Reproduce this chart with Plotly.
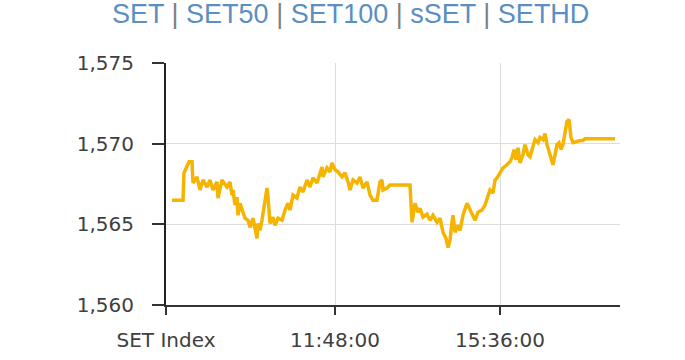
import plotly.graph_objects as go

# Index menu shown as the title
index_names = ["SET", "SET50", "SET100", "sSET", "SETHD"]

# x-axis ticks (trading-time sample position) and labels
tick_pos = [0, 169, 334]
tick_text = ["SET Index", "11:48:00", "15:36:00"]

# y-axis ticks
y_ticks = [1560, 1565, 1570, 1575]

# SET index intraday series (sample position, index value)
t = [6, 17, 18, 20, 23, 26, 27, 31, 34, 37, 41, 44, 47, 51, 52, 56, 61, 64, 66, 67,
     69, 71, 72, 74, 76, 79, 82, 84, 87, 89, 91, 92, 94, 96, 99, 101, 102, 104, 107, 109,
     112, 116, 119, 122, 124, 127, 131, 134, 137, 141, 144, 147, 151, 154, 156, 157, 161, 164, 166, 169,
     172, 176, 179, 182, 184, 187, 191, 194, 197, 201, 204, 207, 211, 214, 216, 217, 221, 224, 242, 244,
     246, 248, 249, 252, 254, 257, 261, 264, 267, 271, 274, 277, 280, 282, 284, 286, 287, 289, 292, 294,
     297, 301, 304, 307, 309, 312, 316, 319, 322, 324, 327, 329, 331, 334, 337, 341, 344, 346, 348, 350,
     352, 354, 357, 359, 362, 364, 367, 369, 372, 374, 377, 379, 381, 383, 385, 387, 389, 391, 393, 395,
     397, 399, 401, 403, 405, 407, 410, 414, 417, 419, 449]
v = [1566.50, 1566.50, 1568.19, 1568.50, 1568.88, 1568.88, 1567.56, 1567.94, 1567.13, 1567.75,
     1567.31, 1567.75, 1567.13, 1567.63, 1566.63, 1567.75, 1567.31, 1567.63, 1566.81, 1567.13,
     1566.19, 1566.69, 1565.56, 1566.31, 1565.88, 1565.38, 1565.25, 1564.81, 1565.38, 1564.63,
     1564.13, 1565.06, 1564.63, 1565.25, 1566.69, 1567.25, 1566.69, 1565.06, 1565.44, 1564.94,
     1565.38, 1565.25, 1565.88, 1566.31, 1565.88, 1566.81, 1566.63, 1567.31, 1567.00, 1567.75,
     1567.31, 1567.88, 1567.56, 1568.19, 1568.56, 1567.94, 1568.50, 1568.25, 1568.81, 1568.38,
     1568.25, 1567.94, 1568.19, 1567.63, 1567.13, 1567.75, 1567.56, 1567.94, 1567.25, 1567.63,
     1566.81, 1566.50, 1566.50, 1567.63, 1567.75, 1567.13, 1567.25, 1567.44, 1567.44, 1567.44,
     1565.13, 1565.88, 1566.31, 1565.75, 1566.00, 1565.44, 1565.63, 1565.25, 1565.56, 1565.13,
     1565.38, 1564.50, 1564.13, 1563.56, 1564.00, 1565.13, 1565.56, 1564.50, 1564.94, 1564.63,
     1565.56, 1566.31, 1565.88, 1565.56, 1565.25, 1565.75, 1565.88, 1566.19, 1566.81, 1567.13,
     1566.94, 1567.75, 1567.88, 1568.19, 1568.50, 1568.69, 1568.88, 1569.13, 1569.63, 1569.00,
     1569.75, 1568.81, 1569.31, 1569.94, 1569.31, 1569.19, 1569.94, 1570.25, 1570.06, 1570.38,
     1570.25, 1570.63, 1569.94, 1569.50, 1569.13, 1568.69, 1569.31, 1569.94, 1570.06, 1569.63,
     1569.94, 1570.56, 1571.38, 1571.50, 1570.38, 1570.06, 1570.13, 1570.19, 1570.19, 1570.31,
     1570.31]

blue = "#5b8ec2"
pipe = "#808080"
title_html = (" <span style='color:%s'>|</span> " % pipe).join(
    "<span style='color:%s'>%s</span>" % (blue, n) for n in index_names)

fig = go.Figure()
fig.add_trace(go.Scatter(
    x=t, y=v, mode="lines",
    line=dict(color="#F5B400", width=3.5),
    hoverinfo="skip",
))

tick_font = dict(family="DejaVu Sans", size=20, color="#404040")

fig.update_layout(
    width=685, height=360,
    margin=dict(l=166, r=65, t=63, b=55, autoexpand=False),
    paper_bgcolor="white", plot_bgcolor="white",
    showlegend=False,
    annotations=[dict(
        text=title_html, xref="paper", yref="paper",
        x=(350 - 166) / 454, y=1 + (63 - 14) / 242,
        xanchor="center", yanchor="middle", showarrow=False,
        font=dict(family="Liberation Sans", size=27, color=blue),
    )],
)
fig.update_xaxes(
    range=[0, 454], tickmode="array", tickvals=tick_pos, ticktext=tick_text,
    showgrid=True, gridcolor="#dddddd", gridwidth=1,
    showline=True, linecolor="#333333", linewidth=2,
    ticks="outside", ticklen=8, tickwidth=2, tickcolor="#333333",
    tickfont=tick_font, zeroline=False, fixedrange=True,
    ticklabelstandoff=8, automargin=False,
)
fig.update_yaxes(
    range=[1560, 1575], tickmode="array", tickvals=y_ticks, tickformat=",d",
    showgrid=True, gridcolor="#dddddd", gridwidth=1,
    showline=True, linecolor="#222222", linewidth=2,
    ticks="outside", ticklen=12, tickwidth=2, tickcolor="#333333",
    tickfont=tick_font, zeroline=False, fixedrange=True,
    ticklabelstandoff=14, automargin=False,
)

fig.write_html("out.html", config={"displayModeBar": False})
